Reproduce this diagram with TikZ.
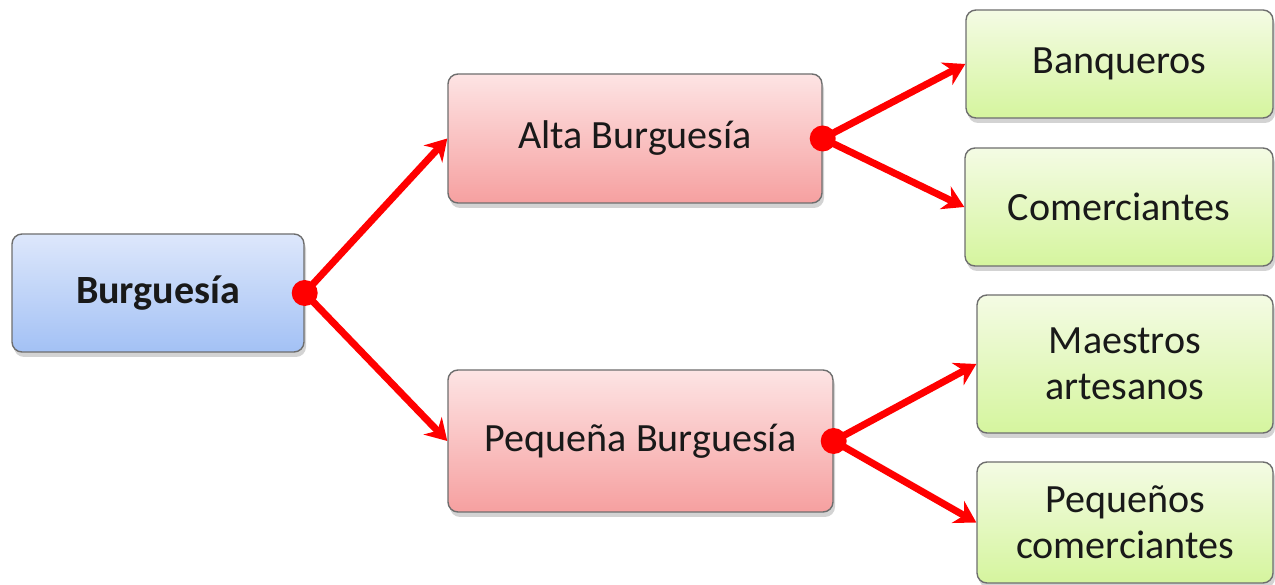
\documentclass[tikz,border=0pt]{standalone}
\usepackage{fontspec}
\setmainfont{Carlito}
\usetikzlibrary{arrows.meta,shadows}
\definecolor{bluetop}{HTML}{DDE7FB}
\definecolor{bluebot}{HTML}{A3C1F5}
\definecolor{pinktop}{HTML}{FDE4E4}
\definecolor{pinkbot}{HTML}{F6A0A0}
\definecolor{greentop}{HTML}{F4FBE4}
\definecolor{greenbot}{HTML}{D5F59E}
\definecolor{boxline}{HTML}{6E6E6E}
\tikzset{
  box/.style={draw=boxline, line width=0.8pt, rounded corners=0.2cm,
    align=center, inner sep=0pt, text=black!90,
    font=\fontsize{22.8}{26}\selectfont,
    drop shadow={opacity=0.35, shadow xshift=0.04cm, shadow yshift=-0.1cm}},
  root/.style={box, top color=bluetop, bottom color=bluebot},
  mid/.style={box, top color=pinktop, bottom color=pinkbot},
  leaf/.style={box, top color=greentop, bottom color=greenbot},
  link/.style={red, line width=4pt, -{Stealth[length=0.42cm, width=0.5cm]}}
}
\def\makefork#1#2#3{
  \draw[link] (#1.east) -- (#2.west);
  \draw[link] (#1.east) -- (#3.west);
  \fill[red] (#1.east) circle (0.26);
}

\begin{document}
\begin{tikzpicture}
  \useasboundingbox (0, 0) rectangle (25.5, 11.7);
  % clases
  \node[root, minimum width=5.84cm, minimum height=2.36cm] (burg) at (3.16, 5.84) {\bfseries Burguesía};
  \node[mid, minimum width=7.48cm, minimum height=2.58cm] (alta) at (12.70, 8.93) {Alta Burguesía};
  \node[mid, minimum width=7.70cm, minimum height=2.84cm] (peq) at (12.81, 2.88) {Pequeña Burguesía};
  \node[leaf, minimum width=6.14cm, minimum height=2.16cm] (banq) at (22.39, 10.42) {Banqueros};
  \node[leaf, minimum width=6.16cm, minimum height=2.36cm] (comer) at (22.38, 7.56) {Comerciantes};
  \node[leaf, minimum width=5.92cm, minimum height=2.76cm] (maes) at (22.50, 4.42) {Maestros\\artesanos};
  \node[leaf, minimum width=5.92cm, minimum height=2.42cm] (pcom) at (22.50, 1.25) {Pequeños\\comerciantes};
  % enlaces
  \makefork{burg}{alta}{peq}
  \makefork{alta}{banq}{comer}
  \makefork{peq}{maes}{pcom}
\end{tikzpicture}
\end{document}
